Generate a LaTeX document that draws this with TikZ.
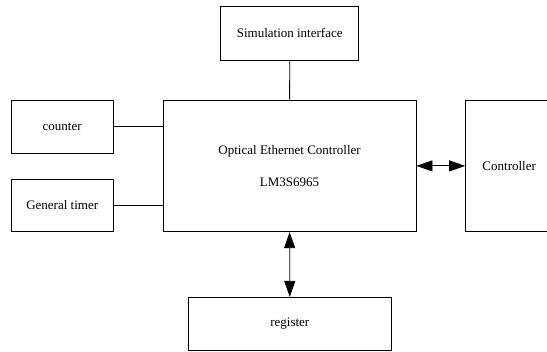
\documentclass[tikz,border=0pt]{standalone}
\usepackage{fontspec}
\setmainfont{Liberation Serif}
\usetikzlibrary{arrows.meta}
\tikzset{
  block/.style={draw, line width=0.8pt, inner sep=0pt, font=\fontsize{13}{15}\selectfont},
  link/.style={line width=0.8pt},
  biarrow/.style={line width=0.8pt, {Triangle[length=16pt,width=11pt]}-{Triangle[length=16pt,width=11pt]}}
}
\begin{document}
\begin{tikzpicture}[x=1pt, y=-1pt]
\useasboundingbox (0,0) rectangle (547,352);
\clip (0,0) rectangle (547,352);
\node[block, minimum width=137.8pt, minimum height=53.3pt] (sim) at (289.7, 33.3) {Simulation interface};
\node[block, minimum width=252.9pt, minimum height=131.7pt, align=center] (oec) at (289.6, 165.9) {Optical Ethernet Controller\\[17pt]LM3S6965};
\node[block, minimum width=101.5pt, minimum height=53pt] (counter) at (62.2, 126.5) {counter};
\node[block, minimum width=101.5pt, minimum height=52.5pt] (timer) at (62.2, 205.5) {General timer};
\node[block, minimum width=87.2pt, minimum height=131.7pt] (ctrl) at (509.2, 165.9) {Controller};
\node[block, minimum width=202.3pt, minimum height=52.7pt] (reg) at (289.8, 323.7) {register};

\draw[link] (sim.south) -- (oec.north);
\draw[link] (counter.east) -- (counter.east -| oec.west);
\draw[link] (timer.east) -- (timer.east -| oec.west);
\draw[biarrow] (oec.east) -- (ctrl.west);
\draw[biarrow] (oec.south) -- (reg.north);

\end{tikzpicture}
\end{document}
